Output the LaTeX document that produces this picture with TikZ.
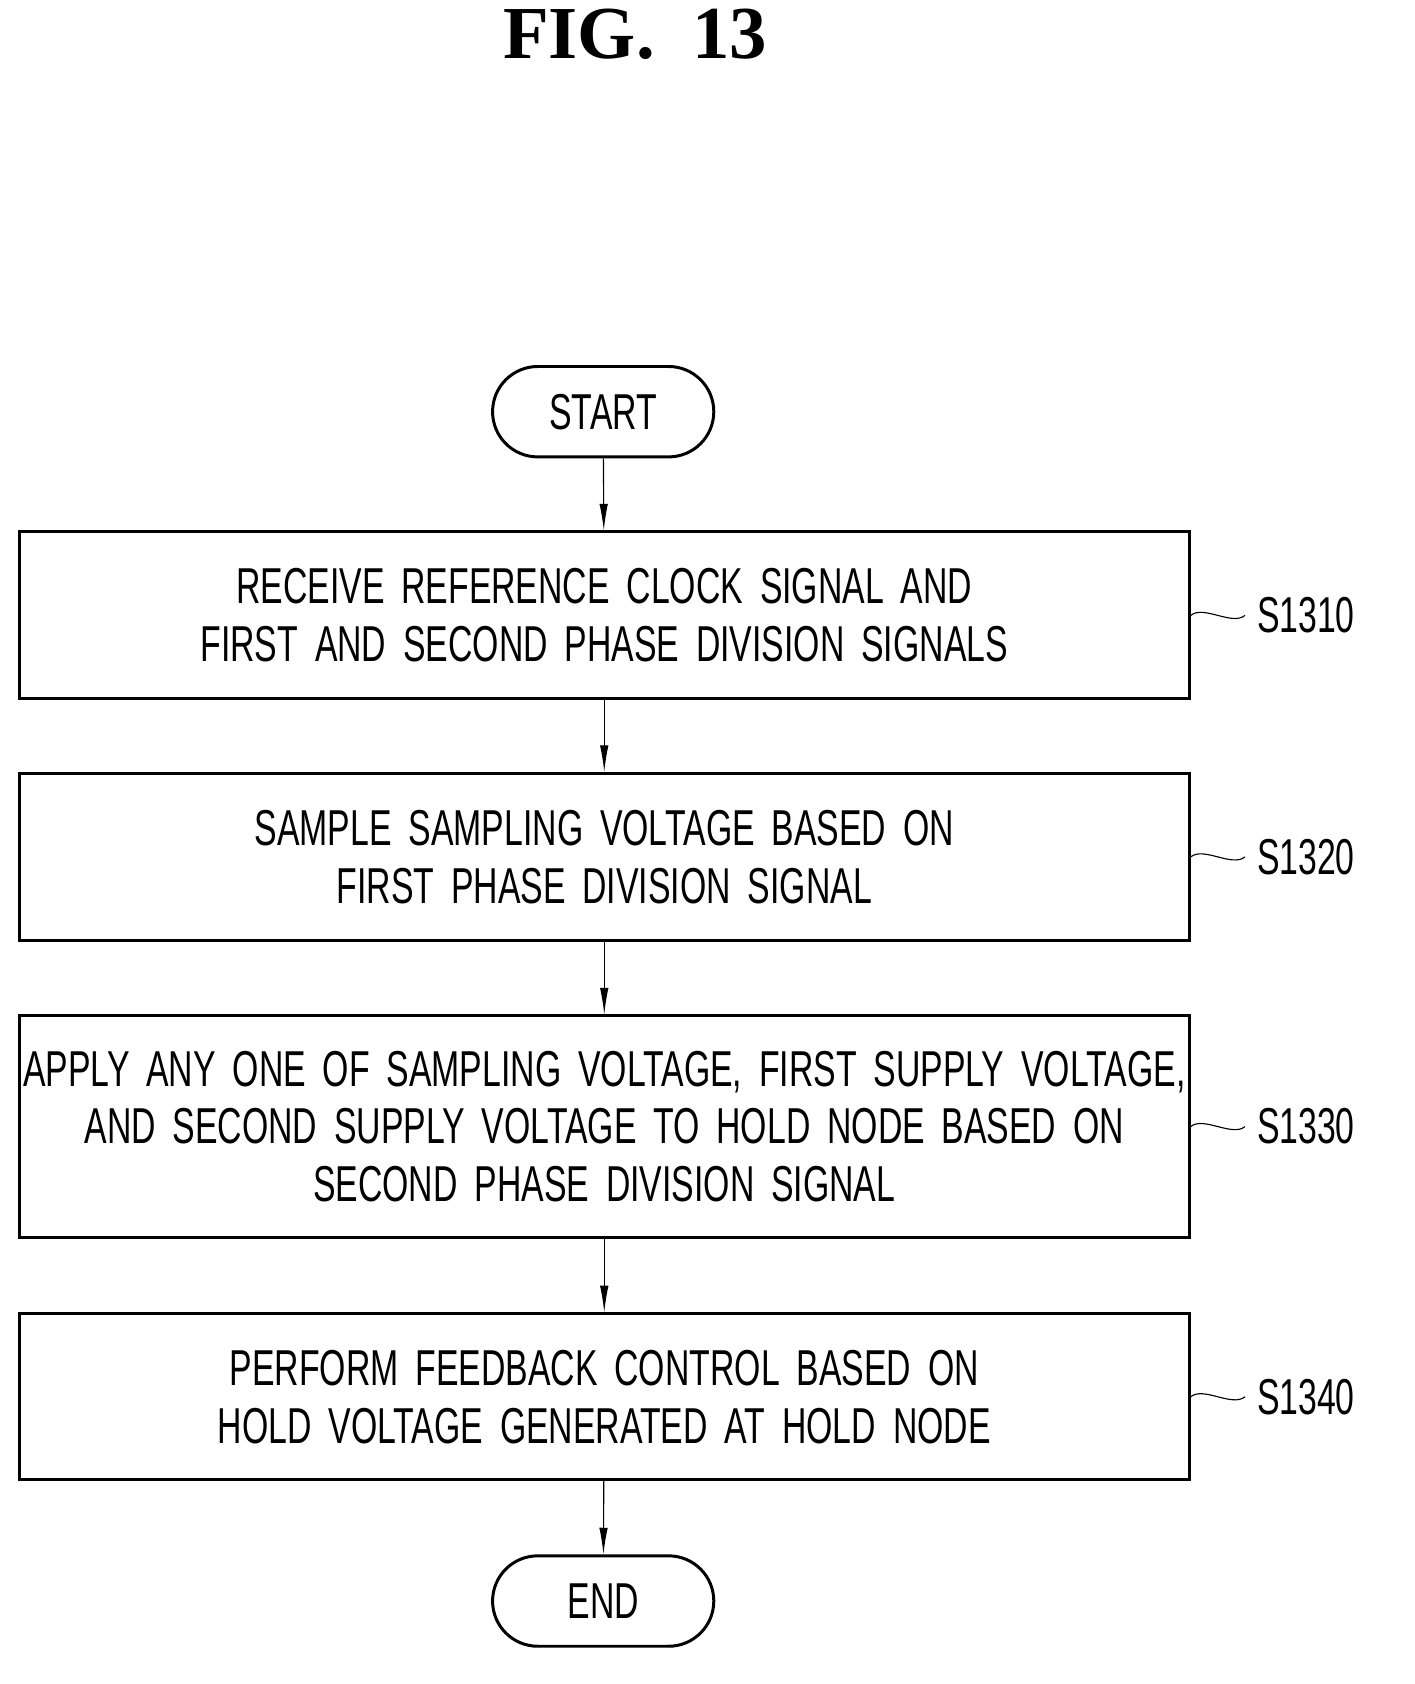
\documentclass[tikz,border=0pt]{standalone}
\usepackage{fontspec}
\setmainfont{Liberation Serif}
\newfontfamily\flowfont[FakeStretch=0.67]{Liberation Sans}
\usetikzlibrary{arrows.meta,positioning,shapes}

\begin{document}
\begin{tikzpicture}[
  x=0.02cm, y=-0.02cm,
  >={Latex[length=0.5cm,width=0.16cm]},
  block/.style={rectangle, draw, line width=1.6pt, align=center, text width=22cm, inner sep=0pt, font=\flowfont\fontsize{27}{31}\selectfont},
  term/.style={rectangle, draw, rounded corners=0.85cm, line width=1.6pt, minimum width=4.16cm, minimum height=1.7cm, font=\flowfont\fontsize{27}{31}\selectfont},
  line/.style={draw, line width=0.6pt, ->},
  steplabel/.style={font=\flowfont\fontsize{27}{31}\selectfont, anchor=west, inner sep=0pt}
]
\useasboundingbox (0,0) rectangle (1330,1583);

\node[font=\bfseries\fontsize{40}{44}\selectfont] (title) at (597,32) {FIG.\ \ 13};

\node[term] (start) at (567,387) {START};
\node[block, minimum height=3.14cm] (s1310) at (568,578.5) {RECEIVE REFERENCE CLOCK SIGNAL AND\\FIRST AND SECOND PHASE DIVISION SIGNALS};
\node[block, minimum height=3.14cm] (s1320) at (568,805.5) {SAMPLE SAMPLING VOLTAGE BASED ON\\FIRST PHASE DIVISION SIGNAL};
\node[block, minimum height=4.16cm] (s1330) at (568,1059) {APPLY ANY ONE OF SAMPLING VOLTAGE, FIRST SUPPLY VOLTAGE,\\AND SECOND SUPPLY VOLTAGE TO HOLD NODE BASED ON\\SECOND PHASE DIVISION SIGNAL};
\node[block, minimum height=3.12cm] (s1340) at (568,1313) {PERFORM FEEDBACK CONTROL BASED ON\\HOLD VOLTAGE GENERATED AT HOLD NODE};
\node[term] (end) at (567,1505) {END};

\path[line] (start) -- (s1310);
\path[line] (s1310) -- (s1320);
\path[line] (s1320) -- (s1330);
\path[line] (s1330) -- (s1340);
\path[line] (s1340) -- (end);

% step labels with tilde leaders
\foreach \s/\t in {s1310/S1310,s1320/S1320,s1330/S1330,s1340/S1340}{
  \node[steplabel] (\s lab) at ([xshift=1.24cm]\s.east) {\t};
  \draw[line width=0.6pt] (\s.east) .. controls ++(12,-10) and ++(-12,10) .. ([xshift=-0.22cm]\s lab.west);
}
\end{tikzpicture}
\end{document}
